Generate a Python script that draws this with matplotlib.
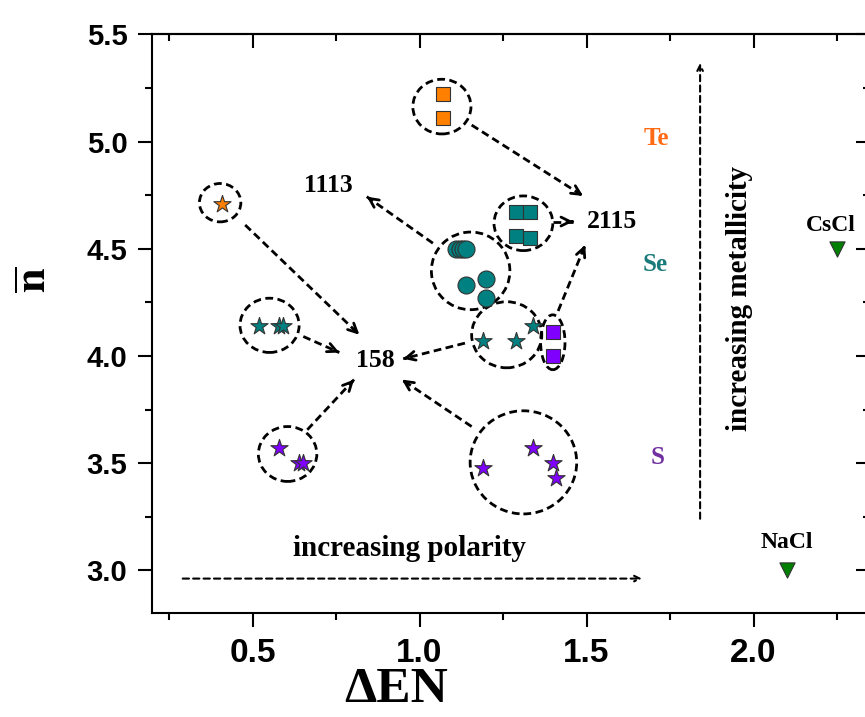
import matplotlib
matplotlib.use("Agg")
import matplotlib.pyplot as plt
from matplotlib.patches import Ellipse
from matplotlib.ticker import MultipleLocator, NullFormatter

plt.rcParams["mathtext.fontset"] = "stix"

# ---- data (ΔEN, n-bar) ----
te_sq_x = [1.07, 1.07]
te_sq_y = [5.22, 5.11]
te_star_x = [0.41]
te_star_y = [4.71]

se_sq_x = [1.29, 1.33, 1.29, 1.33]
se_sq_y = [4.67, 4.67, 4.56, 4.55]
se_circ_x = [1.11, 1.12, 1.13, 1.14, 1.14, 1.20, 1.20]
se_circ_y = [4.50, 4.50, 4.50, 4.50, 4.33, 4.36, 4.27]
se_star_x = [0.52, 0.58, 0.59, 1.19, 1.29, 1.34]
se_star_y = [4.14, 4.14, 4.14, 4.07, 4.07, 4.14]

s_sq_x = [1.40, 1.40]
s_sq_y = [4.11, 4.00]
s_star_x = [0.58, 0.64, 0.65, 1.19, 1.34, 1.40, 1.41]
s_star_y = [3.57, 3.50, 3.50, 3.48, 3.57, 3.50, 3.43]

ref_names = ["CsCl", "NaCl"]
ref_x = [2.25, 2.10]
ref_y = [4.50, 3.00]

# ---- annotation geometry: ellipses (cx, cy, w, h) and arrows (x0, y0, x1, y1)
groups = [
    (1.067, 5.163, 0.174, 0.255),
    (0.403, 4.715, 0.124, 0.179),
    (1.311, 4.619, 0.176, 0.255),
    (1.153, 4.397, 0.235, 0.362),
    (1.261, 4.099, 0.210, 0.308),
    (1.399, 4.064, 0.073, 0.256),
    (0.551, 4.143, 0.177, 0.253),
    (0.605, 3.543, 0.175, 0.256),
    (1.311, 3.504, 0.319, 0.481),
]
links = [
    (1.156, 5.077, 1.490, 4.746),
    (1.400, 4.627, 1.460, 4.627),
    (1.040, 4.526, 0.842, 4.743),
    (1.415, 4.210, 1.496, 4.518),
    (0.478, 4.611, 0.820, 4.099),
    (0.652, 4.091, 0.760, 4.016),
    (1.136, 4.060, 0.951, 3.987),
    (0.664, 3.656, 0.804, 3.890),
    (1.156, 3.671, 0.947, 3.890),
]

ORANGE, TEAL, PURPLE, GREEN = "#FF8000", "#008080", "#8000FF", "#008000"
EDGE = "#333333"
serif = "Liberation Serif"

fig = plt.figure(figsize=(8.65, 7.17), dpi=100)
ax = fig.add_axes([0.1761, 0.1446, 0.8302, 0.8075])

# dashed group outlines
for cx, cy, w, h in groups:
    ax.add_patch(Ellipse((cx, cy), w, h, fill=False, ec="black", lw=2,
                         ls=(0, (2.8, 1.6)), zorder=1))

# dashed arrows: line + solid open head
for x0, y0, x1, y1 in links:
    ax.plot([x0, x1], [y0, y1], color="black", lw=2, ls=(0, (2.8, 1.6)), zorder=1)
    hx, hy = x1 - 0.05 * (x1 - x0), y1 - 0.05 * (y1 - y0)
    ax.annotate("", xy=(x1, y1), xytext=(hx, hy),
                arrowprops=dict(arrowstyle="->,head_length=0.65,head_width=0.32",
                                lw=2, color="black", shrinkA=0, shrinkB=0))

mk = dict(edgecolors=EDGE, linewidths=0.8, zorder=3)
ax.scatter(te_sq_x, te_sq_y, marker="s", s=100, c=ORANGE, **mk)
ax.scatter(te_star_x, te_star_y, marker="*", s=170, c=ORANGE, **mk)
ax.scatter(se_sq_x, se_sq_y, marker="s", s=100, c=TEAL, **mk)
ax.scatter(se_circ_x, se_circ_y, marker="o", s=150, c=TEAL, **mk)
ax.scatter(se_star_x, se_star_y, marker="*", s=170, c=TEAL, **mk)
ax.scatter(s_sq_x, s_sq_y, marker="s", s=100, c=PURPLE, **mk)
ax.scatter(s_star_x, s_star_y, marker="*", s=170, c=PURPLE, **mk)
ax.scatter(ref_x, ref_y, marker="v", s=120, c=GREEN, **mk)

# labels
tkw = dict(family=serif, fontweight="bold", ha="center", va="center")
ax.text(0.727, 4.793, "1113", fontsize=18.5, **tkw)
ax.text(1.576, 4.625, "2115", fontsize=18.5, **tkw)
ax.text(0.867, 3.978, "158", fontsize=18.5, **tkw)
ax.text(1.708, 5.016, "Te", fontsize=18, color="#FF6A13", **tkw)
ax.text(1.706, 4.425, "Se", fontsize=18, color="#1A7A7A", **tkw)
ax.text(1.713, 3.526, "S", fontsize=18, color="#7030A0", **tkw)
ax.text(2.23, 4.607, ref_names[0], fontsize=17, **tkw)
ax.text(2.10, 3.130, ref_names[1], fontsize=17, **tkw)

ax.text(0.969, 3.102, "increasing polarity", fontsize=21, **tkw)
ax.text(1.957, 4.268, "increasing metallicity", fontsize=21, rotation=90, **tkw)
ax.annotate("", xy=(1.666, 2.962), xytext=(0.291, 2.962),
            arrowprops=dict(arrowstyle="->", lw=1.5, ls=(0, (3, 2)), color="black",
                            shrinkA=0, shrinkB=0))
ax.annotate("", xy=(1.84, 5.366), xytext=(1.84, 3.241),
            arrowprops=dict(arrowstyle="->", lw=1.5, ls=(0, (3, 2)), color="black",
                            shrinkA=0, shrinkB=0))

# axes
ax.set_xlim(0.2, 2.35)
ax.set_ylim(2.8, 5.5)
ax.xaxis.set_minor_locator(MultipleLocator(0.25))
ax.yaxis.set_minor_locator(MultipleLocator(0.25))
for sp in ax.spines.values():
    sp.set_linewidth(1.5)
ax.tick_params(which="major", direction="out", length=10, width=1.5, pad=8)
ax.tick_params(which="minor", direction="out", length=5, width=1.5)
ax.set_xticks([0.5, 1.0, 1.5, 2.0])
ax.set_yticks([3.0, 3.5, 4.0, 4.5, 5.0, 5.5])
ax.set_xticklabels(["0.5", "1.0", "1.5", "2.0"],
                   family="Liberation Sans", fontweight="bold", fontsize=24)
ax.set_yticklabels(["3.0", "3.5", "4.0", "4.5", "5.0", "5.5"],
                   family="Liberation Sans", fontweight="bold", fontsize=21)

# inward ticks on top and right, no labels
secx = ax.secondary_xaxis("top")
secx.xaxis.set_major_locator(MultipleLocator(0.5))
secx.xaxis.set_minor_locator(MultipleLocator(0.25))
secx.xaxis.set_major_formatter(NullFormatter())
secx.xaxis.set_minor_formatter(NullFormatter())
secx.tick_params(which="major", direction="in", length=10, width=1.5)
secx.tick_params(which="minor", direction="in", length=5, width=1.5)
secx.spines["top"].set_linewidth(1.5)

secy = ax.secondary_yaxis("right")
secy.yaxis.set_major_locator(MultipleLocator(0.5))
secy.yaxis.set_minor_locator(MultipleLocator(0.25))
secy.yaxis.set_major_formatter(NullFormatter())
secy.yaxis.set_minor_formatter(NullFormatter())
secy.tick_params(which="major", direction="in", length=10, width=1.5)
secy.tick_params(which="minor", direction="in", length=5, width=1.5)
secy.spines["right"].set_linewidth(1.5)

fig.text(396 / 865, 1 - 690 / 717, "ΔEN", family=serif, fontweight="bold",
         fontsize=37, ha="center", va="center")
fig.text(34 / 865, 1 - 280 / 717, r"$\mathbf{\overline{n}}$", fontsize=32,
         rotation=90, ha="center", va="center")

fig.savefig("out.png", dpi=100)
